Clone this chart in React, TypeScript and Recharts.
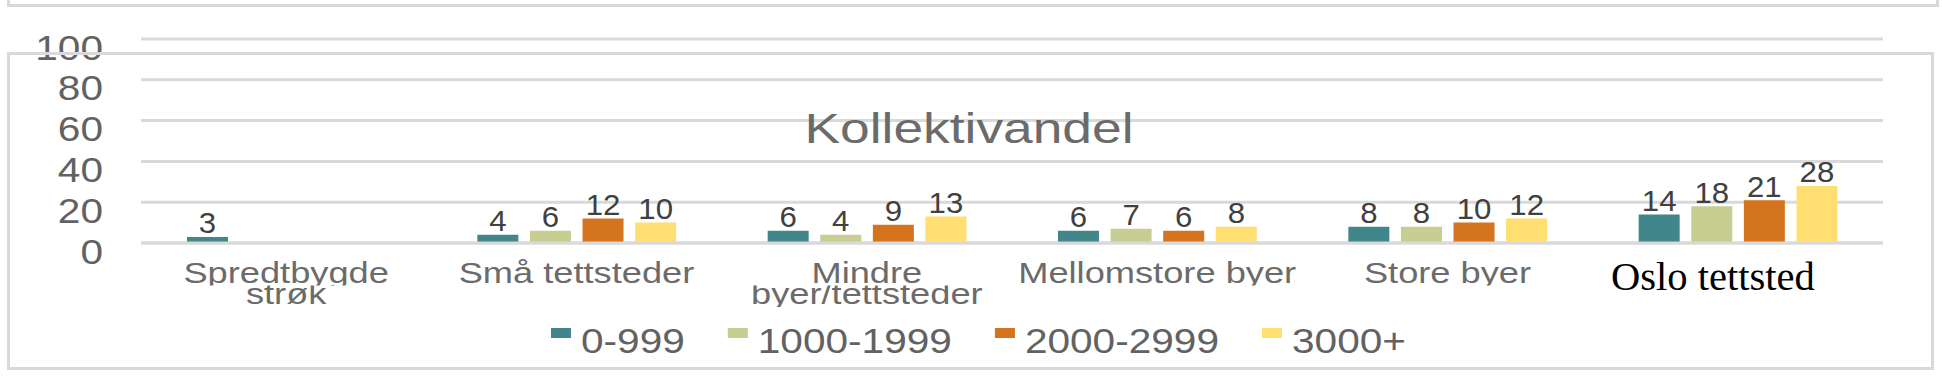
import React from 'react';
import { BarChart, Bar, XAxis, YAxis, CartesianGrid, LabelList } from 'recharts';

const categories = [
  'Spredtbygde strøk',
  'Små tettsteder',
  'Mindre byer/tettsteder',
  'Mellomstore byer',
  'Store byer',
  'Oslo tettsted',
];
const seriesNames = ['0-999', '1000-1999', '2000-2999', '3000+'];
const values0to999 = [3, 4, 6, 6, 8, 14];
const values1000to1999 = [null, 6, 4, 7, 8, 18];
const values2000to2999 = [null, 12, 9, 6, 10, 21];
const values3000plus = [null, 10, 13, 8, 12, 28];
const seriesColors = ['#41868A', '#C8CD92', '#D4741E', '#FFDF71'];
const yTicks = [0, 20, 40, 60, 80, 100];
const chartTitle = 'Kollektivandel';

const seriesValues = [values0to999, values1000to1999, values2000to2999, values3000plus];
const seriesKeys = ['s0', 's1', 's2', 's3'];

const data = categories.map((name, i) => {
  const row: any = { name };
  seriesKeys.forEach((k, j) => {
    row[k] = seriesValues[j][i];
  });
  return row;
});

const SANS = "'Liberation Sans', Arial, sans-serif";
const SERIF = "'Liberation Serif', 'Times New Roman', serif";
const W = 1942;
const H = 376;
const GRID = '#d9d9d9';

function SText(props: any) {
  const { x, y, sx = 1, anchor = 'middle', size, fill, family = SANS, children } = props;
  return (
    <text
      transform={`translate(${x},${y}) scale(${sx},1)`}
      textAnchor={anchor}
      fontSize={size}
      fill={fill}
      fontFamily={family}
    >
      {children}
    </text>
  );
}

function splitLabel(label: string): string[] {
  if (label.length > 16 && label.indexOf(' ') > 0) {
    const i = label.indexOf(' ');
    return [label.slice(0, i), label.slice(i + 1)];
  }
  return [label];
}

const YTick = (props: any) => {
  const { y, payload } = props;
  return (
    <SText x={103} y={y + 20.5} sx={1.16} anchor="end" size={35} fill="#626262">
      {payload.value}
    </SText>
  );
};

const XTick = (props: any) => {
  const { x, payload, index } = props;
  const label = String(payload.value);
  if (label === 'Oslo tettsted') {
    return (
      <SText x={x - 25} y={289.5} sx={1.04} size={39} fill="#000000" family={SERIF}>
        {label}
      </SText>
    );
  }
  const lines = splitLabel(label);
  const id1 = `xclip1-${index}`;
  const id2 = `xclip2-${index}`;
  return (
    <g>
      <defs>
        <clipPath id={id1}>
          <rect x={x - 200} y={240} width={400} height={45.5} />
        </clipPath>
        <clipPath id={id2}>
          <rect x={x - 200} y={285.5} width={400} height={21.5} />
        </clipPath>
      </defs>
      <g clipPath={`url(#${id1})`}>
        <SText x={x} y={283} sx={1.25} size={29} fill="#6b6b6b">
          {lines[0]}
        </SText>
      </g>
      {lines[1] ? (
        <g clipPath={`url(#${id2})`}>
          <SText x={x} y={303.5} sx={1.25} size={29} fill="#6b6b6b">
            {lines[1]}
          </SText>
        </g>
      ) : null}
    </g>
  );
};

const ValueLabel = (props: any) => {
  const { x, y, width, value } = props;
  if (value === null || value === undefined) return null;
  return (
    <SText x={Number(x) + Number(width) / 2} y={Number(y) - 3.5} sx={1.04} size={30} fill="#404040">
      {value}
    </SText>
  );
};

const charAdv: Record<string, number> = { '-': 0.333, '+': 0.584 };
function textAdvance(s: string) {
  let t = 0;
  for (const c of s) t += charAdv[c] !== undefined ? charAdv[c] : 0.556;
  return t;
}

function LegendRow() {
  const size = 35;
  const sx = 1.16;
  const markerW = 20;
  const markerToText = 30;
  const itemGap = 43;
  const widths = seriesNames.map((n) => textAdvance(n) * size * sx);
  const total = widths.reduce((a, w) => a + markerToText + w, 0) + itemGap * (seriesNames.length - 1);
  let cx = 978.5 - total / 2;
  const items = seriesNames.map((n, i) => {
    const start = cx;
    cx += markerToText + widths[i] + itemGap;
    return (
      <g key={n}>
        <rect x={start} y={328} width={markerW} height={10} fill={seriesColors[i]} />
        <text
          transform={`translate(${start + markerToText},353) scale(${sx},1)`}
          fontSize={size}
          fill="#626262"
          fontFamily={SANS}
        >
          {n}
        </text>
      </g>
    );
  });
  return <g>{items}</g>;
}

export default function App() {
  return (
    <div style={{ position: 'absolute', left: 0, top: 0, width: W, height: H, background: '#fff', overflow: 'hidden' }}>
      <div style={{ position: 'absolute', left: 0, top: 0 }}>
        <BarChart
          width={W}
          height={H}
          data={data}
          margin={{ top: 39, right: 59, bottom: 63, left: 105 }}
          barGap={11.6}
        >
          <CartesianGrid vertical={false} stroke={GRID} strokeWidth={3} />
          <YAxis
            width={36}
            domain={[0, 100]}
            ticks={yTicks}
            axisLine={false}
            tickLine={false}
            tick={<YTick />}
            interval={0}
          />
          {seriesKeys.map((k, i) => (
            <Bar key={k} dataKey={k} name={seriesNames[i]} fill={seriesColors[i]} barSize={41} isAnimationActive={false}>
              <LabelList dataKey={k} content={<ValueLabel />} />
            </Bar>
          ))}
          <XAxis
            dataKey="name"
            height={70}
            axisLine={{ stroke: GRID, strokeWidth: 3 }}
            tickLine={false}
            interval={0}
            tick={<XTick />}
          />
        </BarChart>
      </div>
      <svg width={W} height={H} style={{ position: 'absolute', left: 0, top: 0, pointerEvents: 'none' }}>
        <text
          transform={`translate(969,143) scale(1.27,1)`}
          textAnchor="middle"
          fontSize={42}
          fill="#6b6b6b"
          fontFamily={SANS}
        >
          {chartTitle}
        </text>
        <LegendRow />
      </svg>
      <div
        style={{
          position: 'absolute',
          boxSizing: 'border-box',
          left: 6.5,
          top: -10,
          width: 1932,
          height: 16.5,
          borderLeft: `3px solid ${GRID}`,
          borderRight: `3px solid ${GRID}`,
          borderBottom: `3px solid ${GRID}`,
        }}
      />
      <div
        style={{
          position: 'absolute',
          boxSizing: 'border-box',
          left: 6.5,
          top: 52,
          width: 1927,
          height: 318,
          border: `3px solid ${GRID}`,
        }}
      />
    </div>
  );
}
